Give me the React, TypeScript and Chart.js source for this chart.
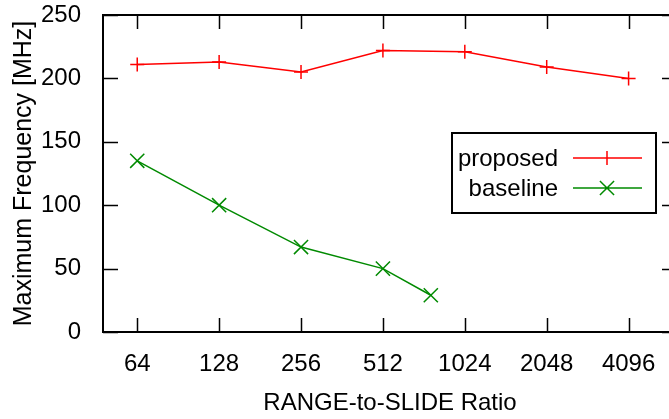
import React, { useEffect, useRef } from "react";
import { Chart, registerables } from "chart.js";

Chart.register(...registerables);

const xTickRatios = [64, 128, 256, 512, 1024, 2048, 4096];
const proposedRatios = [64, 128, 256, 512, 1024, 2048, 4096];
const proposedMHz = [211, 213, 205, 222, 221, 209, 200];
const baselineRatios = [64, 128, 256, 512, 768];
const baselineMHz = [135, 100, 67, 50, 29];
const yTickValues = [0, 50, 100, 150, 200, 250];
const seriesNames = ["proposed", "baseline"];

const FONT = "'Liberation Sans', Arial, Helvetica, sans-serif";
const FS = 24;
const RED = "#ff0000";
const GREEN = "#008a00";

const framePlugin = {
  id: "gpFrame",
  beforeDatasetsDraw(chart: any) {
    const { ctx, chartArea: a, scales } = chart;
    ctx.save();
    ctx.strokeStyle = "#000";
    ctx.lineWidth = 2;
    ctx.beginPath();
    ctx.rect(a.left, a.top, a.right - a.left, a.bottom - a.top);
    ctx.stroke();
    ctx.lineWidth = 1.5;
    ctx.beginPath();
    for (const v of xTickRatios) {
      const x = Math.round(scales.x.getPixelForValue(v)) + 0.5;
      ctx.moveTo(x, a.bottom);
      ctx.lineTo(x, a.bottom - 14);
      ctx.moveTo(x, a.top);
      ctx.lineTo(x, a.top + 14);
    }
    for (const v of yTickValues) {
      const y = Math.round(scales.y.getPixelForValue(v)) + 0.5;
      ctx.moveTo(a.left, y);
      ctx.lineTo(a.left + 15, y);
      ctx.moveTo(a.right, y);
      ctx.lineTo(a.right - 15, y);
    }
    ctx.stroke();
    ctx.restore();
  },
  afterDraw(chart: any) {
    const { ctx, chartArea: a } = chart;
    const boxL = a.left + 349;
    const boxR = a.left + 553;
    const boxT = a.top + 118;
    const boxB = a.top + 198;
    ctx.save();
    ctx.fillStyle = "#fff";
    ctx.fillRect(boxL, boxT, boxR - boxL, boxB - boxT);
    ctx.strokeStyle = "#000";
    ctx.lineWidth = 2;
    ctx.strokeRect(boxL, boxT, boxR - boxL, boxB - boxT);
    ctx.font = `${FS}px ${FONT}`;
    ctx.textAlign = "right";
    ctx.textBaseline = "middle";
    chart.data.datasets.forEach((ds: any, i: number) => {
      const y = boxT + 25 + i * 30;
      ctx.fillStyle = "#000";
      ctx.fillText(ds.label, boxL + 106, y + 1);
      ctx.strokeStyle = ds.borderColor;
      ctx.lineWidth = 1.5;
      ctx.beginPath();
      ctx.moveTo(boxL + 121, y);
      ctx.lineTo(boxL + 190, y);
      const cx = boxL + 155;
      if (ds.pointStyle === "cross") {
        const r = ds.pointRadius;
        ctx.moveTo(cx - r, y);
        ctx.lineTo(cx + r, y);
        ctx.moveTo(cx, y - r);
        ctx.lineTo(cx, y + r);
      } else {
        const r = ds.pointRadius * Math.SQRT1_2;
        ctx.moveTo(cx - r, y - r);
        ctx.lineTo(cx + r, y + r);
        ctx.moveTo(cx - r, y + r);
        ctx.lineTo(cx + r, y - r);
      }
      ctx.stroke();
    });
    ctx.restore();
  },
};

export default function App() {
  const ref = useRef<HTMLCanvasElement | null>(null);

  useEffect(() => {
    if (!ref.current) return;
    const chart = new Chart(ref.current, {
      type: "line",
      data: {
        datasets: [
          {
            label: seriesNames[0],
            data: proposedRatios.map((r, i) => ({ x: r, y: proposedMHz[i] })),
            borderColor: RED,
            backgroundColor: RED,
            borderWidth: 1.5,
            pointStyle: "cross",
            pointRadius: 7,
            pointBorderWidth: 1.5,
            pointBorderColor: RED,
            fill: false,
            tension: 0,
          },
          {
            label: seriesNames[1],
            data: baselineRatios.map((r, i) => ({ x: r, y: baselineMHz[i] })),
            borderColor: GREEN,
            backgroundColor: GREEN,
            borderWidth: 1.5,
            pointStyle: "crossRot",
            pointRadius: 10,
            pointBorderWidth: 1.5,
            pointBorderColor: GREEN,
            fill: false,
            tension: 0,
          },
        ],
      },
      options: {
        responsive: false,
        animation: false,
        events: [],
        layout: { autoPadding: false, padding: { top: 15, right: 3, left: 0, bottom: 0 } },
        plugins: {
          legend: { display: false },
          tooltip: { enabled: false },
        },
        scales: {
          x: {
            type: "logarithmic",
            min: 47.9,
            max: 6170,
            grid: { display: false },
            border: { display: false },
            afterBuildTicks: (s: any) => {
              s.ticks = xTickRatios.map((v) => ({ value: v }));
            },
            afterFit: (s: any) => {
              s.height = 87;
              s.paddingLeft = 0;
              s.paddingRight = 0;
            },
            ticks: {
              autoSkip: false,
              maxRotation: 0,
              padding: 10,
              color: "#000",
              font: { family: FONT, size: FS },
              callback: (v: any) => String(v),
            },
            title: {
              display: true,
              text: "RANGE-to-SLIDE Ratio",
              color: "#000",
              font: { family: FONT, size: FS },
              padding: { top: 0, bottom: 1 },
            },
          },
          y: {
            min: 0,
            max: 250,
            grid: { display: false },
            border: { display: false },
            afterBuildTicks: (s: any) => {
              s.ticks = yTickValues.map((v) => ({ value: v }));
            },
            afterFit: (s: any) => {
              s.width = 103;
              s.paddingTop = 0;
              s.paddingBottom = 0;
            },
            ticks: {
              padding: 14,
              color: "#000",
              font: { family: FONT, size: FS },
            },
            title: {
              display: true,
              text: "Maximum Frequency [MHz]",
              color: "#000",
              font: { family: FONT, size: 25 },
              padding: { top: 9, bottom: 0 },
            },
          },
        },
      },
      plugins: [framePlugin],
    });
    return () => chart.destroy();
  }, []);

  return (
    <div style={{ position: "fixed", left: 0, top: 0, width: 680, height: 419, background: "#fff" }}>
      <canvas ref={ref} width={680} height={419} style={{ display: "block" }} />
    </div>
  );
}
